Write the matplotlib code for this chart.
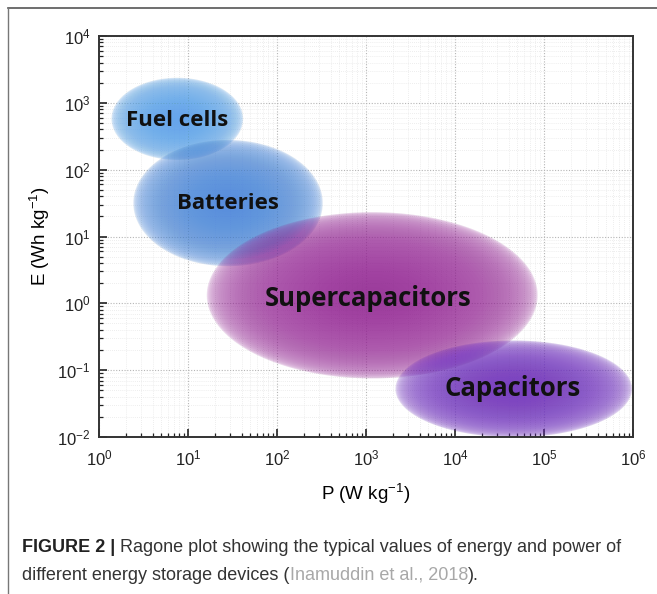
import numpy as np
import matplotlib
matplotlib.use("Agg")
import matplotlib.pyplot as plt
from matplotlib.ticker import LogLocator, NullFormatter, FuncFormatter

# Ragone regions, in decades (log10 of P and E)
devices = ["Fuel cells", "Batteries", "Supercapacitors", "Capacitors"]
center_logP = [0.88, 1.45, 3.07, 4.66]
center_logE = [2.76, 1.50, 0.12, -1.28]
width_dec = [1.48, 2.13, 3.72, 2.66]
height_dec = [1.23, 1.89, 2.49, 1.45]
label_logP = [0.88, 1.45, 3.03, 4.65]
label_logE = [2.74, 1.49, 0.07, -1.28]
colors = ["#5aa5ea", "#4a88dc", "#9a2a9a", "#7030c0"]
label_sizes = [16, 16, 18.5, 18.5]

plt.rcParams['font.family'] = ['Liberation Sans', 'DejaVu Sans']
plt.rcParams['mathtext.fontset'] = 'custom'
plt.rcParams['mathtext.rm'] = 'Liberation Sans'
plt.rcParams['mathtext.it'] = 'Liberation Sans'
plt.rcParams['mathtext.default'] = 'regular'

fig = plt.figure(figsize=(6.57, 5.94), dpi=100)
ax = fig.add_axes([99/657, 1-437/594, 534/657, 401/594])
ax.set_xscale('log')
ax.set_yscale('log')
ax.set_xlim(1, 1e6)
ax.set_ylim(1e-2, 1e4)

# soft blobs made of stacked ellipses in log space
t = np.linspace(0, 2*np.pi, 240)
scales = 1 - 0.9*np.linspace(0, 1, 50)**2.2
for cx, cy, w, h, c in zip(center_logP, center_logE, width_dec, height_dec, colors):
    for s in scales:
        xs = 10**(cx + s*w/2*np.cos(t))
        ys = 10**(cy + s*h/2*np.sin(t))
        ax.fill(xs, ys, color=c, alpha=0.04, lw=0, zorder=2)

for name, lx, ly, fs in zip(devices, label_logP, label_logE, label_sizes):
    ax.text(10**lx, 10**ly, name, ha='center', va='center', fontsize=fs,
            fontweight='bold', family='Open Sans', color='#111111', zorder=5)

# grid and ticks
def pow_label(v, pos):
    return '10$^{%d}$' % int(round(np.log10(v)))

ax.xaxis.set_major_locator(LogLocator(base=10, numticks=10))
ax.yaxis.set_major_locator(LogLocator(base=10, numticks=10))
ax.xaxis.set_minor_locator(LogLocator(base=10, subs=np.arange(2, 10), numticks=10))
ax.yaxis.set_minor_locator(LogLocator(base=10, subs=np.arange(2, 10), numticks=10))
ax.xaxis.set_major_formatter(FuncFormatter(pow_label))
ax.yaxis.set_major_formatter(FuncFormatter(pow_label))
ax.xaxis.set_minor_formatter(NullFormatter())
ax.yaxis.set_minor_formatter(NullFormatter())
ax.grid(which='major', color='#b5b5b5', linestyle=(0, (1, 1.5)), lw=0.8, zorder=0)
ax.grid(which='minor', color='#e8e8e8', linestyle=(0, (1, 1.5)), lw=0.6, zorder=0)
ax.set_axisbelow(True)
ax.tick_params(which='major', direction='in', length=6, width=1.2, labelsize=12,
               top=False, right=False, colors='#222222')
ax.tick_params(which='minor', direction='in', length=3, width=0.9,
               top=False, right=False, colors='#222222')
ax.tick_params(axis='x', pad=8)
ax.tick_params(axis='y', pad=6)
for sp in ax.spines.values():
    sp.set_linewidth(1.4)
    sp.set_color('#333333')

ax.set_xlabel('P (W kg$^{-1}$)', fontsize=13.5, labelpad=10)
ax.set_ylabel('E (Wh kg$^{-1}$)', fontsize=13.5)
ax.yaxis.set_label_coords(-0.088, 0.5)

# frame lines of the figure panel
fig.add_artist(plt.Line2D([8/657, 1], [1-8/594, 1-8/594], color='#555555', lw=1.2))
fig.add_artist(plt.Line2D([8/657, 8/657], [0, 1-8/594], color='#777777', lw=1.0))

# caption
cap = 13
t1 = fig.text(22/657, 1-552/594, 'FIGURE 2 |', fontsize=cap, fontweight='bold', color='#222222')
ax.annotate(' Ragone plot showing the typical values of energy and power of',
            xy=(1, 0), xycoords=t1, va='bottom', fontsize=cap, color='#333333',
            annotation_clip=False)
t2 = fig.text(22/657, 1-580/594, 'different energy storage devices (', fontsize=cap, color='#333333')
t3 = ax.annotate('Inamuddin et al., 2018', xy=(1, 0), xycoords=t2, va='bottom',
                 fontsize=cap, color='#a8a8a8', annotation_clip=False)
ax.annotate(').', xy=(1, 0), xycoords=t3, va='bottom', fontsize=cap, color='#333333',
            annotation_clip=False)

fig.savefig('out.png', dpi=100)
